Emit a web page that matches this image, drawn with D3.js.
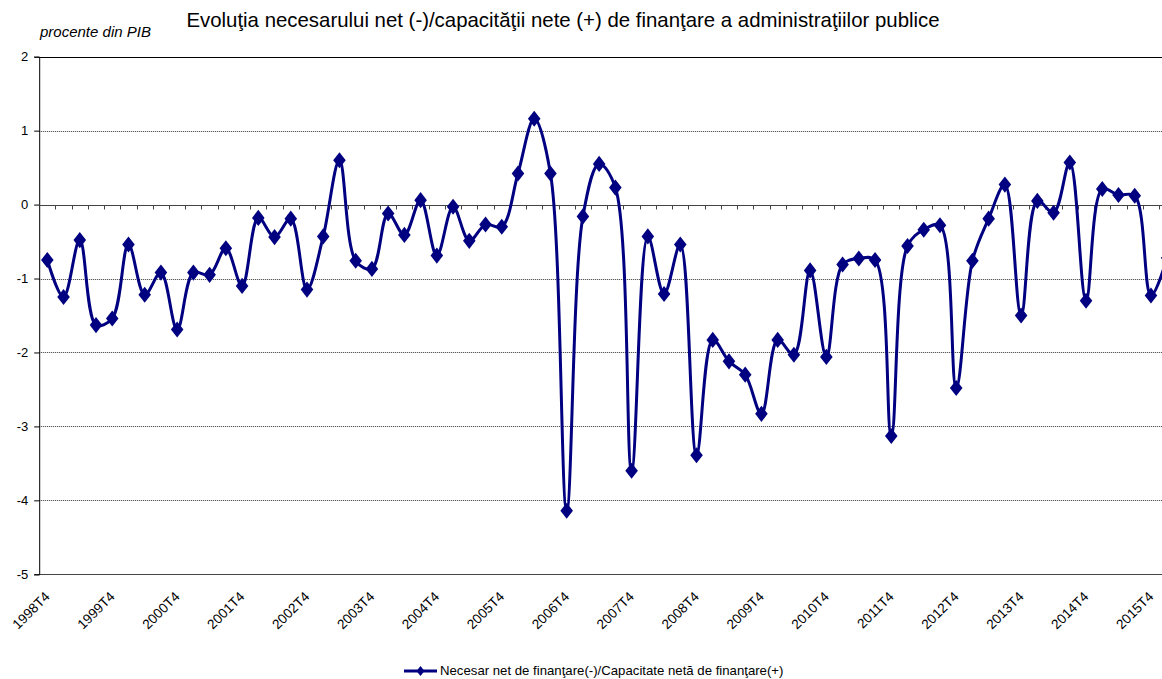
<!DOCTYPE html>
<meta charset="utf-8">
<script src="https://d3js.org/d3.v7.min.js"></script>
<style>
  body { margin: 0; background: #fff; }
  svg { font-family: "Liberation Sans", Arial, sans-serif; }
</style>
<div id="chart"></div>
<script>

var width = 1162, height = 679;

// date
var years = d3.range(1998, 2017);
var quarters = [];
years.forEach(function(y) {
  [1, 2, 3, 4].forEach(function(q) {
    if ((y == 1998 && q < 4) || (y == 2016 && q > 1)) return;
    quarters.push(y + "T" + q);
  });
});

var tickLabels = ["1998T4","1999T4","2000T4","2001T4","2002T4","2003T4","2004T4","2005T4","2006T4",
  "2007T4","2008T4","2009T4","2010T4","2011T4","2012T4","2013T4","2014T4","2015T4"];

var yTicks = [2, 1, 0, -1, -2, -3, -4, -5];

var valori = [
  -0.75, -1.25, -0.48, -1.63, -1.54, -0.54, -1.22, -0.92, -1.69, -0.92,
  -0.95, -0.59, -1.10, -0.18, -0.44, -0.19, -1.15, -0.43,  0.60, -0.76,
  -0.87, -0.12, -0.41,  0.06, -0.69, -0.03, -0.49, -0.27, -0.30,  0.42,
   1.16,  0.42, -4.14, -0.16,  0.55,  0.23, -3.60, -0.43, -1.21, -0.54,
  -3.39, -1.83, -2.12, -2.30, -2.83, -1.83, -2.03, -0.89, -2.06, -0.81,
  -0.73, -0.75, -3.13, -0.56, -0.34, -0.28, -2.48, -0.76, -0.19,  0.27,
  -1.50,  0.05, -0.11,  0.57, -1.30,  0.21,  0.13,  0.12, -1.23, -0.72
];

var titlu = "Evoluţia necesarului net (-)/capacităţii nete (+) de finanţare a administraţiilor publice";
var unitate = "procente din PIB";
var legenda = "Necesar net de finanţare(-)/Capacitate netă de finanţare(+)";

var culoare = "#000080";

var svg = d3.select("#chart")
  .append("svg")
  .attr("width", width)
  .attr("height", height)
  .style("overflow", "hidden");

var left = 39.2, bw = 16.23;

var x = d3.scaleBand()
  .domain(quarters)
  .range([left, left + quarters.length * bw])
  .padding(0);

var y = d3.scaleLinear()
  .domain([-5, 2])
  .range([574.3, 56.7]);

var cx = function(q) { return x(q) + x.bandwidth() / 2; };
var right = left + quarters.length * bw;

// grid
svg.append("g")
  .selectAll("line")
  .data(yTicks.filter(function(d) { return d != 0 && d != 2 && d != -5; }))
  .join("line")
  .attr("x1", left).attr("x2", right)
  .attr("y1", function(d) { return Math.round(y(d)) + 0.5; })
  .attr("y2", function(d) { return Math.round(y(d)) + 0.5; })
  .attr("stroke", "#333")
  .attr("stroke-width", 1)
  .attr("stroke-dasharray", "1,1");

// bordura sus / jos
[2, -5].forEach(function(v) {
  svg.append("line")
    .attr("x1", left).attr("x2", right)
    .attr("y1", Math.round(y(v)) + 0.5).attr("y2", Math.round(y(v)) + 0.5)
    .attr("stroke", v == 2 ? "#000" : "#444")
    .attr("stroke-width", 1);
});

// axa Y
var yAxis = d3.axisLeft(y)
  .tickValues(yTicks)
  .tickSize(5)
  .tickPadding(6)
  .tickFormat(function(d) { return String(d); });

svg.append("g")
  .attr("transform", "translate(" + left + ",0)")
  .call(yAxis)
  .call(function(g) {
    g.select(".domain").attr("stroke", "#000");
    g.selectAll(".tick line").attr("stroke", "#000");
    g.selectAll("text").attr("font-size", 13).attr("fill", "#000")
      .attr("font-family", "Liberation Sans, Arial, sans-serif");
  });

// axa X (la 0)
var y0 = Math.round(y(0)) + 0.5;
svg.append("line")
  .attr("x1", left).attr("x2", right)
  .attr("y1", y0).attr("y2", y0)
  .attr("stroke", "#444");

svg.append("g")
  .selectAll("line")
  .data(quarters)
  .join("line")
  .attr("x1", function(d) { return Math.round(x(d) + bw) + 0.5; })
  .attr("x2", function(d) { return Math.round(x(d) + bw) + 0.5; })
  .attr("y1", y0)
  .attr("y2", y0 + 4)
  .attr("stroke", "#444");

// etichete X
svg.append("g")
  .selectAll("text")
  .data(tickLabels)
  .join("text")
  .attr("transform", function(d) { return "translate(" + cx(d) + ",594) rotate(-45)"; })
  .attr("text-anchor", "end")
  .attr("dy", "0.35em")
  .attr("font-size", 13.6)
  .text(function(d) { return d; });

// linia
var puncte = quarters.map(function(q, i) { return {q: q, v: valori[i]}; });

var linie = d3.line()
  .x(function(d) { return cx(d.q); })
  .y(function(d) { return y(d.v); })
  .curve(d3.curveCatmullRom.alpha(0.5));

svg.append("path")
  .datum(puncte)
  .attr("d", linie)
  .attr("fill", "none")
  .attr("stroke", culoare)
  .attr("stroke-width", 3);

var romb = d3.symbol().type(d3.symbolDiamond).size(75);

svg.append("g")
  .selectAll("path")
  .data(puncte)
  .join("path")
  .attr("d", romb)
  .attr("transform", function(d) { return "translate(" + cx(d.q) + "," + y(d.v) + ") scale(1.35,1)"; })
  .attr("fill", culoare);

// titlu
svg.append("text")
  .attr("x", 563)
  .attr("y", 27)
  .attr("text-anchor", "middle")
  .attr("font-size", 20.4)
  .text(titlu);

svg.append("text")
  .attr("x", 40)
  .attr("y", 37)
  .attr("font-size", 15)
  .attr("font-style", "italic")
  .text(unitate);

// legenda
svg.append("line")
  .attr("x1", 404).attr("x2", 437)
  .attr("y1", 671).attr("y2", 671)
  .attr("stroke", culoare)
  .attr("stroke-width", 3);

svg.append("path")
  .attr("d", d3.symbol().type(d3.symbolDiamond).size(30))
  .attr("transform", "translate(420.5,671) scale(1.35,1)")
  .attr("fill", culoare);

svg.append("text")
  .attr("x", 440)
  .attr("y", 675)
  .attr("font-size", 13.2)
  .text(legenda);

</script>
